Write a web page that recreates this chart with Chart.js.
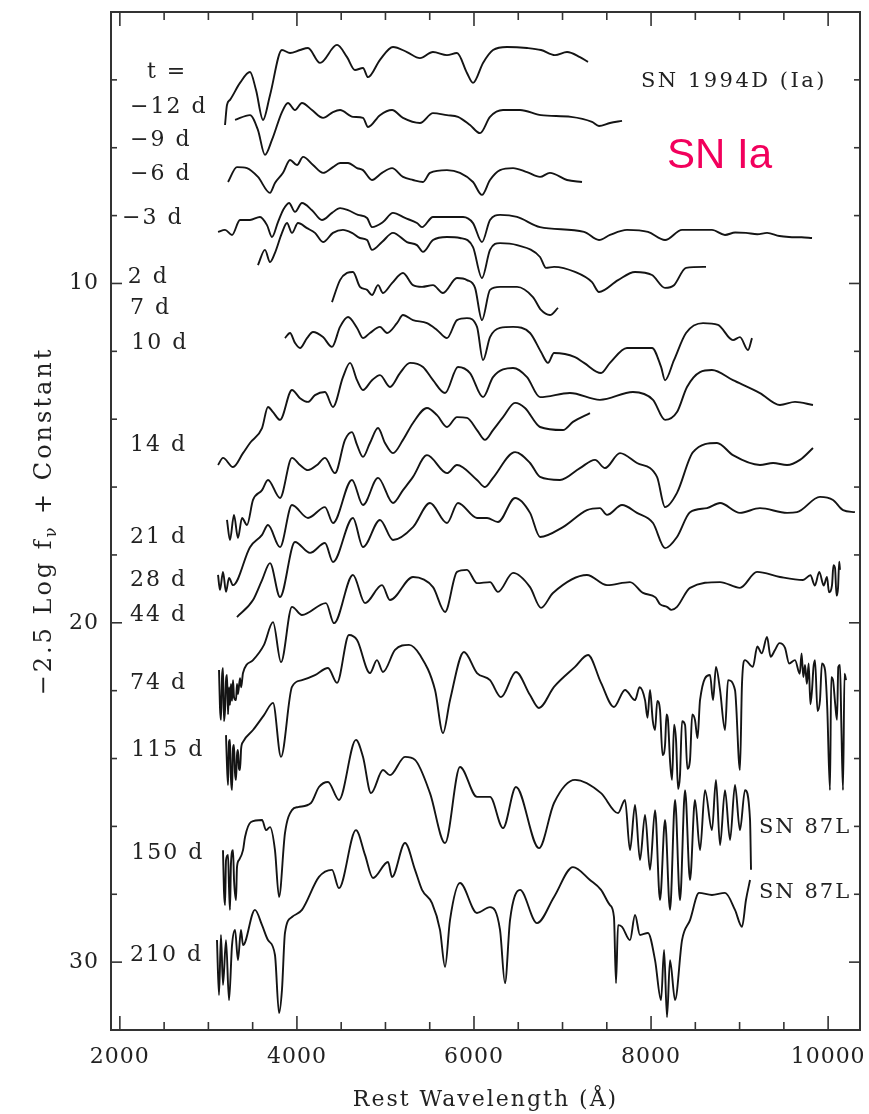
<!DOCTYPE html>
<html>
<head>
<meta charset="utf-8">
<script src="https://cdn.jsdelivr.net/npm/chart.js@4"></script>
<style>
  html, body { margin: 0; padding: 0; background: #fff; }
  #wrap { width: 869px; height: 1114px; }
</style>
</head>
<body>
<div id="wrap"><canvas id="c" width="869" height="1114"></canvas></div>
<script>
// ---- Spectra: [rest wavelength (A), -2.5 log f + const] ----
const spec_m12 = [[3188,5.33],[3210,4.74],[3244,4.59],[3357,4.09],[3470,3.77],[3538,4.30],[3617,5.18],[3696,4.45],[3831,3.12],[3922,3.21],[4035,3.12],[4125,3.06],[4261,3.50],[4453,2.97],[4566,3.33],[4656,3.71],[4746,3.65],[4803,3.92],[4938,3.41],[5085,3.03],[5243,3.18],[5390,3.36],[5537,3.18],[5695,3.27],[5808,3.21],[5921,3.80],[5989,4.09],[6102,3.50],[6215,3.12],[6373,3.03],[6599,3.06],[6757,3.12],[6915,3.27],[7051,3.18],[7197,3.33],[7288,3.47]];
const spec_m9 = [[3301,5.18],[3470,5.04],[3560,5.48],[3639,6.21],[3718,5.77],[3831,4.95],[3899,4.68],[3978,4.89],[4057,4.68],[4170,4.89],[4295,5.12],[4407,4.95],[4487,4.89],[4633,5.09],[4746,5.12],[4803,5.39],[4938,5.04],[5074,4.89],[5198,5.12],[5390,5.27],[5537,4.98],[5695,5.04],[5819,5.09],[5955,5.33],[6068,5.57],[6181,5.09],[6328,4.89],[6520,4.89],[6757,5.04],[7096,5.09],[7333,5.24],[7412,5.36],[7536,5.27],[7672,5.21]];
const spec_m6 = [[3222,7.01],[3323,6.57],[3436,6.60],[3560,6.86],[3696,7.33],[3752,7.04],[3843,6.74],[3922,6.36],[4001,6.51],[4069,6.27],[4182,6.51],[4295,6.74],[4407,6.57],[4487,6.45],[4577,6.45],[4679,6.60],[4746,6.66],[4848,6.95],[4961,6.74],[5074,6.60],[5198,6.86],[5311,6.95],[5424,7.01],[5503,6.74],[5695,6.66],[5842,6.74],[5989,7.01],[6090,7.39],[6181,6.95],[6294,6.66],[6441,6.60],[6599,6.72],[6746,6.86],[6858,6.74],[7051,6.95],[7220,7.01]];
const spec_m3 = [[3109,8.48],[3188,8.42],[3267,8.57],[3357,8.13],[3470,8.13],[3583,8.04],[3662,8.28],[3718,8.63],[3786,8.19],[3843,7.84],[3911,7.63],[3978,7.89],[4057,7.63],[4170,7.84],[4283,8.13],[4396,7.92],[4487,7.78],[4577,7.84],[4690,7.98],[4792,8.07],[4848,8.34],[4972,8.19],[5085,7.92],[5221,8.07],[5356,8.22],[5413,8.34],[5537,8.04],[5695,8.04],[5876,8.04],[5989,8.22],[6090,8.78],[6181,8.13],[6294,7.98],[6486,8.04],[6746,8.34],[7243,8.48],[7412,8.72],[7536,8.57],[7728,8.42],[7965,8.48],[8158,8.72],[8350,8.42],[8688,8.42],[8835,8.57],[8950,8.50],[9072,8.51],[9200,8.55],[9310,8.51],[9450,8.60],[9558,8.63],[9700,8.64],[9818,8.66]];
const spec_p2 = [[3560,9.46],[3639,9.01],[3696,9.37],[3752,9.10],[3831,8.51],[3888,8.22],[3944,8.51],[4012,8.22],[4114,8.37],[4204,8.51],[4295,8.78],[4407,8.51],[4520,8.42],[4622,8.51],[4712,8.66],[4792,8.72],[4848,9.01],[4961,8.78],[5085,8.51],[5243,8.78],[5356,8.87],[5424,9.07],[5537,8.72],[5695,8.63],[5842,8.66],[5989,8.93],[6090,9.84],[6181,9.01],[6294,8.81],[6486,8.87],[6746,9.22],[6813,9.54],[6904,9.51],[7141,9.66],[7333,9.96],[7412,10.25],[7627,9.90],[7819,9.66],[8011,9.75],[8158,10.13],[8259,10.05],[8395,9.54],[8621,9.51]];
const spec_p7 = [[4396,10.55],[4487,9.90],[4566,9.69],[4633,9.66],[4712,10.10],[4792,10.19],[4848,10.34],[4916,10.05],[4972,10.28],[5074,9.99],[5198,9.69],[5311,10.05],[5413,10.10],[5537,10.05],[5650,10.28],[5808,9.84],[5921,9.90],[6012,10.13],[6090,11.08],[6181,10.19],[6294,10.10],[6486,10.10],[6666,10.40],[6757,10.78],[6858,10.93],[6949,10.72]];
const spec_p10 = [[3865,11.61],[3922,11.46],[3978,11.75],[4035,11.90],[4114,11.61],[4182,11.43],[4295,11.58],[4396,11.87],[4487,11.28],[4577,10.99],[4679,11.31],[4746,11.61],[4825,11.46],[4938,11.28],[5018,11.46],[5130,11.17],[5198,10.93],[5311,11.08],[5469,11.17],[5582,11.37],[5695,11.61],[5808,11.08],[5921,11.02],[6034,11.28],[6102,12.26],[6181,11.58],[6294,11.31],[6441,11.28],[6633,11.46],[6757,12.02],[6836,12.34],[6904,12.05],[7141,12.17],[7243,12.34],[7435,12.64],[7536,12.34],[7728,11.90],[8011,11.90],[8113,12.46],[8158,12.85],[8259,12.26],[8395,11.46],[8587,11.17],[8756,11.22],[8925,11.67],[9004,11.58],[9095,11.96],[9140,11.61]];
const spec_p14 = [[3109,15.35],[3165,15.14],[3278,15.41],[3391,15.00],[3470,14.70],[3606,14.26],[3673,13.64],[3730,13.79],[3809,14.02],[3944,13.14],[4035,13.38],[4125,13.49],[4204,13.29],[4317,13.20],[4407,13.64],[4520,12.76],[4600,12.34],[4679,12.85],[4746,13.14],[4848,12.85],[4938,12.70],[5051,13.05],[5164,12.64],[5277,12.34],[5424,12.46],[5537,12.85],[5673,13.23],[5819,12.46],[5955,12.64],[6102,13.35],[6215,12.76],[6441,12.49],[6599,12.76],[6746,13.35],[7084,13.23],[7423,13.43],[7796,13.20],[8022,13.43],[8158,14.02],[8293,13.79],[8406,13.05],[8553,12.61],[8688,12.55],[8925,12.85],[9230,13.23],[9456,13.58],[9626,13.49],[9829,13.58]];
const spec_p21 = [[3210,16.97],[3244,17.56],[3289,16.82],[3334,17.50],[3380,16.91],[3436,17.12],[3504,16.38],[3606,16.09],[3673,15.79],[3809,16.32],[3944,15.14],[4035,15.35],[4125,15.50],[4227,15.35],[4317,15.14],[4430,15.59],[4543,14.61],[4622,14.38],[4679,14.76],[4746,15.11],[4825,14.70],[4916,14.26],[4995,14.70],[5085,15.00],[5198,14.61],[5311,14.11],[5469,13.67],[5582,13.88],[5695,14.23],[5808,13.94],[5921,13.96],[6034,14.32],[6124,14.61],[6215,14.32],[6328,13.94],[6464,13.52],[6576,13.67],[6746,14.23],[7005,14.32],[7118,14.08],[7310,13.82]];
const spec_p28 = [[3109,18.59],[3131,19.03],[3165,18.50],[3199,19.09],[3233,18.68],[3278,18.89],[3470,17.77],[3606,17.41],[3673,17.12],[3809,17.77],[3944,16.53],[4125,16.91],[4317,16.59],[4407,17.06],[4622,15.79],[4746,16.53],[4916,15.73],[5085,16.47],[5198,16.09],[5311,15.70],[5469,15.06],[5695,15.59],[5808,15.35],[6034,15.79],[6124,16.00],[6215,15.73],[6464,14.97],[6633,15.29],[6746,15.70],[6971,15.79],[7197,15.44],[7367,15.20],[7480,15.44],[7649,15.00],[7841,15.29],[8067,15.70],[8158,16.59],[8293,16.17],[8474,14.97],[8745,14.70],[8925,15.06],[9230,15.35],[9378,15.29],[9536,15.35],[9682,15.20],[9829,14.85]];
const spec_p44 = [[3323,19.83],[3504,19.33],[3606,18.74],[3696,18.24],[3809,19.24],[3978,17.62],[4148,17.94],[4317,17.65],[4407,18.21],[4633,16.91],[4746,17.77],[4938,16.97],[5085,17.56],[5311,17.18],[5503,16.47],[5695,17.06],[5819,16.47],[6034,16.91],[6147,16.91],[6271,17.03],[6464,16.32],[6633,16.76],[6746,17.47],[7005,17.18],[7276,16.68],[7423,16.62],[7502,16.82],[7672,16.53],[7841,16.76],[8022,17.06],[8158,17.80],[8293,17.47],[8440,16.74],[8632,16.62],[8779,16.47],[9004,16.76],[9230,16.62],[9536,16.76],[9648,16.74],[9908,16.29],[10055,16.38],[10168,16.68],[10303,16.74]];
const spec_p74 = [[3120,21.39],[3131,22.50],[3142,22.86],[3154,21.60],[3165,21.33],[3176,22.90],[3188,22.57],[3199,21.70],[3210,21.54],[3222,22.70],[3233,21.90],[3244,22.42],[3255,21.80],[3267,22.30],[3278,21.69],[3290,22.20],[3312,22.28],[3323,21.80],[3334,22.10],[3357,21.63],[3370,21.90],[3391,21.48],[3504,21.10],[3628,20.65],[3730,19.98],[3820,21.16],[3944,19.53],[4057,19.77],[4328,19.42],[4419,20.01],[4633,18.59],[4769,19.42],[4961,18.89],[5051,19.33],[5311,18.65],[5537,18.95],[5673,19.68],[5808,18.50],[5921,18.44],[6034,18.83],[6181,18.80],[6271,19.09],[6441,18.53],[6633,18.95],[6757,19.56],[6892,19.12],[7276,18.59],[7502,18.89],[7762,18.80],[7909,19.12],[8050,19.25],[8100,19.45],[8180,19.53],[8230,19.62],[8293,19.53],[8440,18.97],[8779,18.80],[9004,18.97],[9197,18.50],[9456,18.65],[9716,18.74],[9800,18.60],[9850,18.90],[9900,18.50],[9950,18.90],[9987,18.65],[10010,19.10],[10044,18.89],[10060,18.30],[10078,18.39],[10095,19.20],[10112,18.97],[10125,18.20],[10134,18.44]];
const spec_p115 = [[3199,23.31],[3210,24.20],[3222,24.78],[3233,23.50],[3244,23.45],[3255,24.60],[3267,24.93],[3278,23.70],[3289,23.60],[3300,24.40],[3312,24.63],[3323,23.90],[3334,23.75],[3346,24.30],[3357,24.34],[3370,23.70],[3391,23.51],[3504,23.16],[3628,22.72],[3730,22.36],[3820,23.95],[3944,21.89],[4057,21.69],[4204,21.54],[4351,21.33],[4453,21.77],[4588,20.36],[4679,20.51],[4825,21.48],[4904,21.10],[4972,21.45],[5108,20.80],[5266,20.65],[5390,20.95],[5560,21.98],[5650,23.25],[5729,22.28],[5887,20.86],[6034,21.48],[6181,21.69],[6305,22.19],[6474,21.45],[6633,22.13],[6734,22.51],[6904,21.89],[7141,21.30],[7288,20.95],[7435,21.77],[7581,22.48],[7706,21.98],[7819,22.28],[7870,21.90],[7932,22.28],[7960,22.80],[7988,21.98],[8020,22.90],[8045,23.16],[8070,22.30],[8101,22.57],[8130,23.90],[8158,23.60],[8175,22.70],[8191,22.86],[8215,24.10],[8237,24.63],[8260,23.00],[8282,23.45],[8305,24.90],[8327,24.49],[8350,22.90],[8384,23.01],[8410,24.30],[8440,24.04],[8465,22.70],[8496,22.86],[8525,23.40],[8553,22.28],[8666,21.54],[8700,22.28],[8733,21.30],[8779,21.98],[8835,23.16],[8869,21.69],[8948,21.98],[9004,24.34],[9027,21.80],[9061,21.10],[9150,21.30],[9200,20.70],[9250,20.90],[9310,20.42],[9350,21.00],[9400,20.80],[9450,20.60],[9513,20.74],[9560,21.20],[9626,21.10],[9680,21.50],[9700,20.90],[9720,21.60],[9739,21.24],[9760,21.80],[9780,21.20],[9800,22.40],[9818,21.98],[9835,21.30],[9852,21.10],[9880,22.60],[9908,22.28],[9930,21.20],[9965,21.39],[9990,22.50],[10021,24.93],[10035,21.60],[10055,21.69],[10080,22.40],[10100,22.86],[10115,21.30],[10134,21.24],[10150,23.10],[10168,24.93],[10185,21.50],[10202,21.69]];
const spec_p150 = [[3165,26.70],[3176,27.90],[3188,28.32],[3199,27.00],[3222,26.84],[3233,27.80],[3244,28.46],[3255,27.10],[3278,26.70],[3290,27.60],[3312,28.17],[3323,27.20],[3346,26.99],[3391,26.70],[3414,26.31],[3481,25.87],[3606,25.81],[3651,26.11],[3696,26.02],[3752,26.70],[3798,28.08],[3865,26.20],[3944,25.52],[4012,25.43],[4159,25.31],[4249,24.84],[4351,24.69],[4475,25.22],[4667,23.45],[4746,23.95],[4837,25.02],[4972,24.34],[5051,24.49],[5221,23.95],[5334,24.04],[5503,25.02],[5673,26.49],[5842,24.25],[6034,25.13],[6181,25.13],[6328,26.05],[6474,24.84],[6734,26.64],[6904,25.31],[7141,24.63],[7435,25.02],[7627,25.61],[7706,25.22],[7762,26.70],[7819,25.37],[7875,26.99],[7932,25.66],[7988,27.28],[8045,25.52],[8101,28.17],[8158,25.81],[8214,28.46],[8271,25.22],[8327,28.17],[8384,24.93],[8440,27.58],[8496,25.22],[8553,26.70],[8609,24.93],[8688,26.11],[8733,24.63],[8779,26.55],[8835,24.93],[8892,26.40],[8948,24.78],[9004,26.11],[9061,24.93],[9118,25.81],[9129,27.28]];
const spec_p210 = [[3097,29.35],[3120,30.97],[3142,29.20],[3165,30.67],[3199,29.35],[3233,31.12],[3267,29.50],[3301,29.05],[3334,29.94],[3368,29.05],[3391,29.50],[3526,28.46],[3606,28.91],[3673,29.35],[3752,29.79],[3798,31.50],[3831,30.82],[3865,29.14],[3944,28.67],[4057,28.46],[4249,27.49],[4396,27.28],[4475,27.82],[4667,26.11],[4769,26.84],[4859,27.52],[5029,27.05],[5074,27.49],[5221,26.49],[5334,27.28],[5413,27.87],[5526,28.26],[5616,29.05],[5673,30.14],[5729,28.76],[5842,27.67],[6034,28.55],[6181,28.38],[6294,29.05],[6350,30.62],[6407,28.76],[6520,27.87],[6712,28.85],[6904,28.08],[7118,27.20],[7310,27.58],[7435,27.87],[7536,28.32],[7581,28.67],[7604,30.62],[7627,28.91],[7672,28.96],[7762,29.35],[7819,28.61],[7875,29.20],[7965,29.14],[8045,29.94],[8113,31.12],[8147,29.64],[8180,31.62],[8214,29.94],[8271,31.12],[8350,29.35],[8440,28.76],[8542,27.96],[8688,28.02],[8835,27.96],[8948,28.46],[9027,28.96],[9072,28.17],[9118,27.58]];

const allSpectra = [spec_m12, spec_m9, spec_m6, spec_m3, spec_p2, spec_p7, spec_p10, spec_p14,
  spec_p21, spec_p28, spec_p44, spec_p74, spec_p115, spec_p150, spec_p210];

// ---- Labels and ticks ----
const epochLabels = ['t =', '−12 d', '−9 d', '−6 d', '−3 d', '2 d', '7 d', '10 d', '14 d',
  '21 d', '28 d', '44 d', '74 d', '115 d', '150 d', '210 d'];
const epochLabelAt = [[2307,3.77],[2115,4.80],[2115,5.77],[2115,6.77],[2024,8.07],[2090,9.81],
  [2115,10.72],[2130,11.75],[2115,14.76],[2115,17.47],[2115,18.74],[2115,19.77],[2115,21.77],
  [2130,23.75],[2130,26.78],[2115,29.79]];
const xMajorTicks = [2000, 4000, 6000, 8000, 10000];
const xMinorTicks = [2500, 3000, 3500, 4500, 5000, 5500, 6500, 7000, 7500, 8500, 9000, 9500];
const yMajorTicks = [10, 20, 30];
const yMinorTicks = [4, 6, 8, 12, 14, 16, 18, 22, 24, 26, 28];

const SERIF = '"DejaVu Serif", "Liberation Serif", serif';
const INK = '#222';

function drawText(ctx, txt, px, py, font, align, color, spacing) {
  ctx.font = font;
  ctx.fillStyle = color || INK;
  ctx.textAlign = align || 'left';
  ctx.textBaseline = 'middle';
  ctx.letterSpacing = spacing || '0px';
  ctx.fillText(txt, px, py);
  ctx.letterSpacing = '0px';
}

// ---- Frame, inward ticks, text ----
const framePlugin = {
  id: 'frame',
  afterDraw(chart) {
    const { ctx, chartArea: a, scales: { x, y } } = chart;
    ctx.save();
    ctx.strokeStyle = '#333';
    ctx.lineWidth = 2;
    ctx.strokeRect(a.left, a.top, a.right - a.left, a.bottom - a.top);

    ctx.lineWidth = 1.6;
    const seg = (x1, y1, x2, y2) => { ctx.beginPath(); ctx.moveTo(x1, y1); ctx.lineTo(x2, y2); ctx.stroke(); };
    const tickX = (v, len) => {
      const px = x.getPixelForValue(v);
      seg(px, a.bottom, px, a.bottom - len);
      seg(px, a.top, px, a.top + len);
    };
    const tickY = (v, len) => {
      const py = y.getPixelForValue(v);
      seg(a.left, py, a.left + len, py);
      seg(a.right, py, a.right - len, py);
    };
    xMajorTicks.forEach(v => tickX(v, 14));
    xMinorTicks.forEach(v => tickX(v, 8));
    yMajorTicks.forEach(v => tickY(v, 11));
    yMinorTicks.forEach(v => tickY(v, 6));

    // tick labels
    xMajorTicks.forEach(v => drawText(ctx, String(v), x.getPixelForValue(v), a.bottom + 27, '22px ' + SERIF, 'center', INK, '1px'));
    yMajorTicks.forEach(v => drawText(ctx, String(v), a.left - 12, y.getPixelForValue(v), '22px ' + SERIF, 'right', INK, '1px'));

    // axis titles
    drawText(ctx, 'Rest Wavelength (Å)', (a.left + a.right) / 2, a.bottom + 70, '22px ' + SERIF, 'center', INK, '2px');

    ctx.save();
    ctx.translate(a.left - 66, (a.top + a.bottom) / 2);
    ctx.rotate(-Math.PI / 2);
    const p1 = '−2.5 Log f', p3 = ' + Constant';
    ctx.letterSpacing = '3px';
    ctx.font = '24px ' + SERIF;
    const w1 = ctx.measureText(p1).width, w3 = ctx.measureText(p3).width;
    ctx.font = '16px ' + SERIF;
    const w2 = ctx.measureText('ν').width;
    const sx = -(w1 + w2 + w3) / 2;
    drawText(ctx, p1, sx, 0, '24px ' + SERIF, 'left', INK, '3px');
    drawText(ctx, 'ν', sx + w1, 7, '16px ' + SERIF, 'left', INK, '3px');
    drawText(ctx, p3, sx + w1 + w2, 0, '24px ' + SERIF, 'left', INK, '3px');
    ctx.restore();

    // epoch labels
    epochLabels.forEach((t, i) => {
      const [lx, ly] = epochLabelAt[i];
      drawText(ctx, t, x.getPixelForValue(lx), y.getPixelForValue(ly), '22px ' + SERIF, 'left', INK, '2px');
    });

    // annotations
    drawText(ctx, 'SN 1994D (Ia)', x.getPixelForValue(7886), y.getPixelForValue(4.06), '21px ' + SERIF, 'left', INK, '2.5px');
    drawText(ctx, 'SN Ia', x.getPixelForValue(8180), y.getPixelForValue(6.27), '42px "Liberation Sans", Arial, sans-serif', 'left', '#f2005c');
    drawText(ctx, 'SN 87L', x.getPixelForValue(9219), y.getPixelForValue(26.02), '21px ' + SERIF, 'left', INK, '2px');
    drawText(ctx, 'SN 87L', x.getPixelForValue(9219), y.getPixelForValue(27.96), '21px ' + SERIF, 'left', INK, '2px');
    ctx.restore();
  }
};

const datasets = allSpectra.map(s => ({
  data: s.map(([w, m]) => ({ x: w, y: m })),
  showLine: true,
  borderColor: '#141414',
  borderWidth: 1.9,
  pointRadius: 0,
  cubicInterpolationMode: 'monotone'
}));

new Chart(document.getElementById('c').getContext('2d'), {
  type: 'scatter',
  data: { datasets },
  options: {
    responsive: false,
    animation: false,
    devicePixelRatio: 1,
    layout: { padding: { left: 111, right: 9, top: 12, bottom: 84 } },
    plugins: { legend: { display: false }, tooltip: { enabled: false } },
    scales: {
      x: { type: 'linear', min: 1900, max: 10360, display: false },
      y: { type: 'linear', min: 2, max: 32, reverse: true, display: false }
    }
  },
  plugins: [framePlugin]
});
</script>
</body>
</html>
